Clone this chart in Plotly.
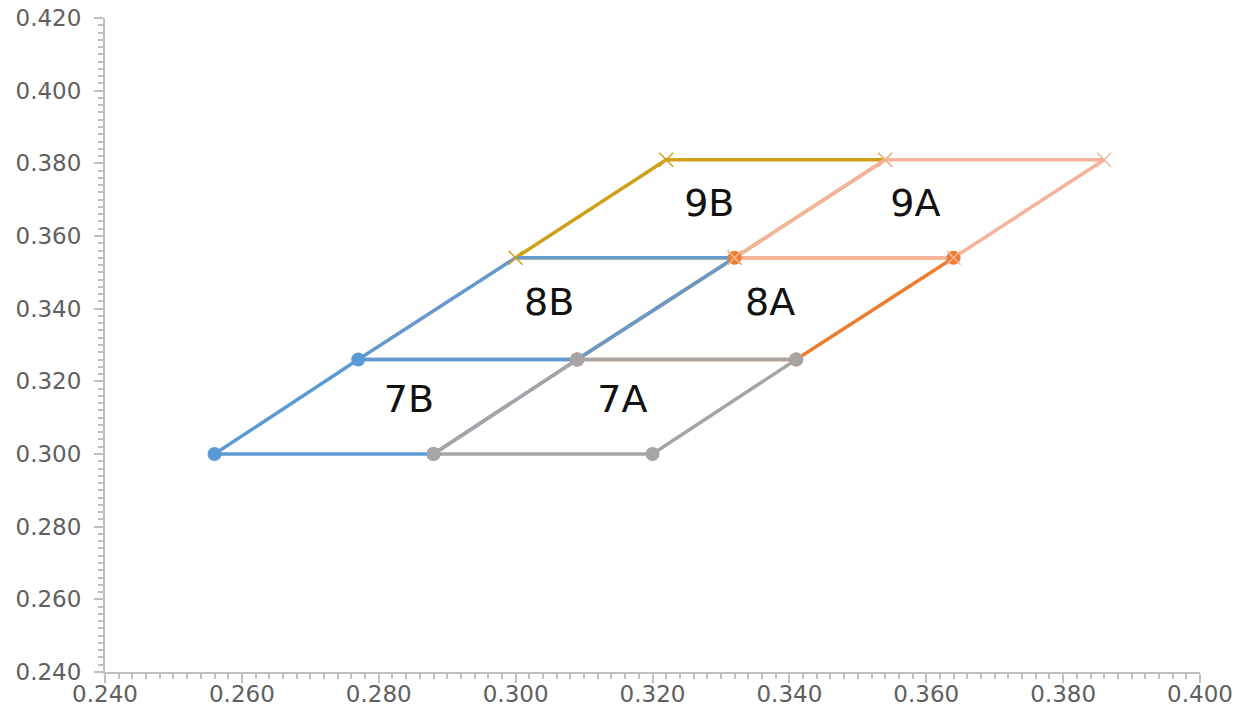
import plotly.graph_objects as go

# Bin corner coordinates (closed quadrilaterals)
bin_names = ["7B", "8A", "7A", "9B", "8B", "9A"]
x_7B = [0.256, 0.277, 0.309, 0.288, 0.256]
y_7B = [0.300, 0.326, 0.326, 0.300, 0.300]
x_7A = [0.288, 0.309, 0.341, 0.320, 0.288]
y_7A = [0.300, 0.326, 0.326, 0.300, 0.300]
x_8B = [0.277, 0.300, 0.332, 0.309, 0.277]
y_8B = [0.326, 0.354, 0.354, 0.326, 0.326]
x_8A = [0.309, 0.332, 0.364, 0.341, 0.309]
y_8A = [0.326, 0.354, 0.354, 0.326, 0.326]
x_9B = [0.300, 0.322, 0.354, 0.332, 0.300]
y_9B = [0.354, 0.381, 0.381, 0.354, 0.354]
x_9A = [0.332, 0.354, 0.386, 0.364, 0.332]
y_9A = [0.354, 0.381, 0.381, 0.354, 0.354]

label_text = ["7B", "7A", "8B", "8A", "9B", "9A"]
label_x = [0.2844, 0.3156, 0.3049, 0.3372, 0.3283, 0.3584]
label_y = [0.3141, 0.3141, 0.3410, 0.3410, 0.3680, 0.3680]

series = {
    "7B": (x_7B, y_7B, "#5B9BD5", "circle"),
    "8A": (x_8A, y_8A, "#ED7D31", "circle"),
    "7A": (x_7A, y_7A, "#A5A5A5", "circle"),
    "9B": (x_9B, y_9B, "#CDA21A", "x-thin"),
    "8B": (x_8B, y_8B, "#6699CC", None),
    "9A": (x_9A, y_9A, "#F4B49C", "x-thin"),
}

fig = go.Figure()
# lines first
for name in bin_names:
    xs, ys, col, sym = series[name]
    fig.add_trace(go.Scatter(x=xs, y=ys, mode="lines", name=name,
                             line=dict(color=col, width=3.5),
                             showlegend=False, hoverinfo="skip"))
# markers on top
for name in bin_names:
    xs, ys, col, sym = series[name]
    if sym is None:
        continue
    if sym == "circle":
        mk = dict(symbol="circle", size=14, color=col)
    else:
        mk = dict(symbol="x-thin", size=14, line=dict(color=col, width=1.5), color=col)
    fig.add_trace(go.Scatter(x=xs[:-1], y=ys[:-1], mode="markers", name=name,
                             marker=mk, showlegend=False))

fig.add_trace(go.Scatter(x=label_x, y=label_y, mode="text", text=label_text,
                         textfont=dict(family="DejaVu Sans, sans-serif",
                                       size=38, color="#111111"),
                         showlegend=False, hoverinfo="skip"))

axis_common = dict(
    showgrid=False, zeroline=False, showline=True, automargin=False,
    linecolor="#BFBFBF", linewidth=2,
    ticks="outside", ticklen=9, tickwidth=2, tickcolor="#BFBFBF",
    tickformat=".3f", dtick=0.02, ticklabeloverflow="allow",
    tickfont=dict(family="DejaVu Sans, sans-serif", size=23, color="#606060"),
    minor=dict(ticks="outside", ticklen=5, tickwidth=2, tickcolor="#BFBFBF", dtick=0.002, showgrid=False),
)
fig.update_xaxes(range=[0.240, 0.400], tick0=0.24, ticklabelstandoff=-9, **axis_common)
fig.update_yaxes(range=[0.240, 0.420], tick0=0.24, ticklabelstandoff=8, **axis_common)

fig.update_layout(
    width=1239, height=715,
    margin=dict(l=105, r=39, t=18, b=43),
    plot_bgcolor="white", paper_bgcolor="white",
)

fig.write_html("out.html", config={"displayModeBar": False},
               post_script="document.body.style.margin='0';document.body.style.overflow='hidden';")
